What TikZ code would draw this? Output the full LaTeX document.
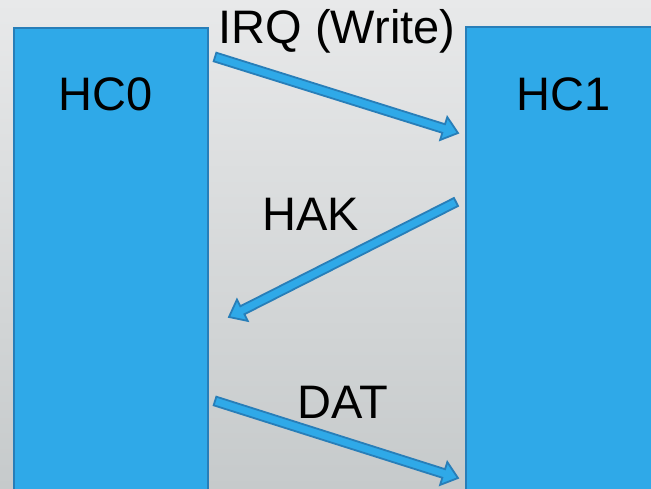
\documentclass[tikz,border=0pt]{standalone}
\usepackage{fontspec}
\setmainfont{Liberation Sans}
\usetikzlibrary{calc}
\definecolor{bgtop}{RGB}{232,233,234}
\definecolor{bgbot}{RGB}{198,202,203}
\definecolor{hcfill}{RGB}{47,169,232}
\definecolor{hcedge}{RGB}{40,126,184}
\tikzset{
  hcbox/.style={fill=hcfill, draw=hcedge, line width=2pt},
  lbl/.style={font=\fontsize{47}{56}\selectfont, text=black, inner sep=0pt},
  blockarrow/.style={fill=hcfill, draw=hcedge, line width=1.8pt, line join=miter},
}
% block arrow from #1 to #2: shaft half-width 4.5, head half-width 12, head length 15
\newcommand{\blockarrow}[2]{%
  \coordinate (ba-b) at ($(#2)!15pt!(#1)$);
  \draw[blockarrow]
    ($(#1)!4.5pt!90:(#2)$) -- ($(ba-b)!4.5pt!90:(#2)$) -- ($(ba-b)!12pt!90:(#2)$)
    -- (#2) -- ($(ba-b)!12pt!-90:(#2)$) -- ($(ba-b)!4.5pt!-90:(#2)$)
    -- ($(#1)!4.5pt!-90:(#2)$) -- cycle;
}
\begin{document}
\begin{tikzpicture}[x=1pt,y=-1pt]
  \useasboundingbox (0,0) rectangle (651,488);
  \shade[top color=bgtop, bottom color=bgbot] (0,0) rectangle (651,488);
  \begin{scope}
    \clip (0,0) rectangle (651,488);
    \draw[hcbox] (14,28) rectangle (208,495);
    \draw[hcbox] (466,27) rectangle (660,495);
  \end{scope}
  \node[lbl] (hc0) at (106,94) {HC0};
  \node[lbl] (hc1) at (564,94) {HC1};
  \node[lbl] (irq) at (337,31) {IRQ (Write)};
  \node[lbl] (hak) at (311,214) {HAK};
  \node[lbl] (dat) at (343,402) {DAT};
  \coordinate (irqS) at (215,57);
  \coordinate (irqT) at (458,133);
  \coordinate (hakS) at (456,202);
  \coordinate (hakT) at (229,317);
  \coordinate (datS) at (215,401);
  \coordinate (datT) at (458,478);
  \blockarrow{irqS}{irqT}
  \blockarrow{hakS}{hakT}
  \blockarrow{datS}{datT}
\end{tikzpicture}
\end{document}
